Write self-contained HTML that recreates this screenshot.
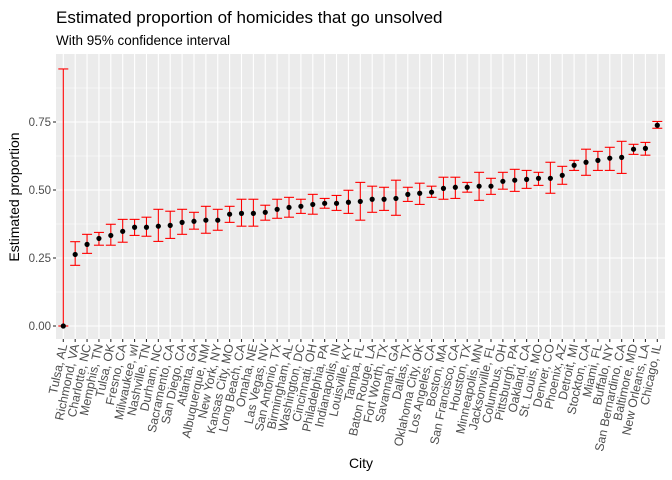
<!DOCTYPE html>
<html><head><meta charset="utf-8"><style>
body{margin:0;background:#fff;}
svg{display:block;font-family:"Liberation Sans",Arial,sans-serif;}
</style></head><body>
<svg id="c" width="672" height="480">
<text x="56" y="23" font-size="17" fill="#000">Estimated proportion of homicides that go unsolved</text>
<text x="56" y="45" font-size="13.5" fill="#000">With 95% confidence interval</text>
<text transform="translate(19,197) rotate(-90)" text-anchor="middle" font-size="14" fill="#000">Estimated proportion</text>
<text x="361" y="468" text-anchor="middle" font-size="14" fill="#000">City</text>
<rect x="56" y="54" width="609" height="285" fill="#ebebeb"/>
<g id="grid"></g><g id="marks"></g><g id="axes"></g>
</svg>
<script>
const cities=["Tulsa, AL","Richmond, VA","Charlotte, NC","Memphis, TN","Tulsa, OK","Fresno, CA","Milwaukee, wI","Nashville, TN","Durham, NC","Sacramento, CA","San Diego, CA","Atlanta, GA","Albuquerque, NM","New York, NY","Kansas City, MO","Long Beach, CA","Omaha, NE","Las Vegas, NV","San Antonio, TX","Birmingham, AL","Washington, DC","Cincinnati, OH","Philadelphia, PA","Indianapolis, IN","Louisville, KY","Tampa, FL","Baton Rouge, LA","Fort Worth, TX","Savannah, GA","Dallas, TX","Oklahoma City, OK","Los Angeles, CA","Boston, MA","San Francisco, CA","Houston, TX","Minneapolis, MN","Jacksonville, FL","Columbus, OH","Pittsburgh, PA","Oakland, CA","St. Louis, MO","Denver, CO","Phoenix, AZ","Detroit, MI","Stockton, CA","Miami, FL","Buffalo, NY","San Bernardino, CA","Baltimore, MD","New Orleans, LA","Chicago, IL"];
const estimate=[0,0.263,0.300,0.322,0.333,0.348,0.363,0.363,0.367,0.370,0.381,0.385,0.389,0.389,0.411,0.414,0.414,0.418,0.429,0.436,0.440,0.447,0.451,0.451,0.455,0.458,0.466,0.466,0.469,0.484,0.488,0.492,0.506,0.510,0.510,0.514,0.514,0.532,0.536,0.539,0.543,0.543,0.554,0.591,0.602,0.609,0.617,0.620,0.650,0.653,0.738];
const ciLow=[0,0.223,0.267,0.297,0.297,0.308,0.333,0.330,0.311,0.322,0.337,0.356,0.341,0.352,0.381,0.367,0.367,0.389,0.396,0.400,0.414,0.411,0.433,0.425,0.414,0.389,0.418,0.425,0.407,0.458,0.447,0.473,0.466,0.469,0.492,0.462,0.484,0.503,0.495,0.506,0.517,0.488,0.521,0.572,0.554,0.572,0.572,0.561,0.631,0.628,0.727];
const ciHigh=[0.945,0.310,0.337,0.344,0.374,0.392,0.392,0.400,0.429,0.422,0.429,0.418,0.440,0.429,0.440,0.466,0.466,0.444,0.466,0.473,0.466,0.484,0.469,0.480,0.499,0.528,0.514,0.510,0.536,0.510,0.525,0.514,0.547,0.547,0.528,0.565,0.543,0.565,0.576,0.572,0.565,0.602,0.587,0.609,0.650,0.642,0.657,0.679,0.668,0.675,0.752];
const yTicks=[0,0.25,0.5,0.75];
const yLabels=["0.00","0.25","0.50","0.75"];
const NS="http://www.w3.org/2000/svg";
const X0=63.3,X1=657.3,Y0=326,YS=272,PL=56,PR=665,PT=54,PB=339;
const xs=i=>X0+(X1-X0)*i/(cities.length-1);
const ys=v=>Y0-v*YS;
function mk(t,a,p){const e=document.createElementNS(NS,t);for(const k in a)e.setAttribute(k,a[k]);p.appendChild(e);return e;}
const grid=document.getElementById('grid'),marks=document.getElementById('marks'),axes=document.getElementById('axes');
[0.125,0.375,0.625,0.875].forEach(v=>{
 const l=mk('line',{x1:PL,x2:PR,y1:ys(v),y2:ys(v),stroke:'#fff','stroke-width':0.55},grid);
 
 });
yTicks.forEach((v,i)=>{
 const l=mk('line',{x1:PL,x2:PR,y1:ys(v),y2:ys(v),stroke:'#fff','stroke-width':1.1},grid);
 
 
 const t=mk('line',{x1:PL-3,x2:PL,y1:ys(v),y2:ys(v),stroke:'#333','stroke-width':1.1},axes);
 
 
 const tx=mk('text',{x:PL-5,y:ys(v)+4,'text-anchor':'end','font-size':11.5,fill:'#4d4d4d'},axes);
 tx.textContent=yLabels[i];
 
 
});
cities.forEach((c,i)=>{
 const x=xs(i);
 const g=mk('line',{x1:x,x2:x,y1:PT,y2:PB,stroke:'#fff','stroke-width':1.1},grid);
 
 
 const eb=mk('g',{stroke:'#ff0000','stroke-width':1.1},marks);
 
 
 mk('line',{x1:x,x2:x,y1:ys(ciLow[i]),y2:ys(ciHigh[i])},eb);
 mk('line',{x1:x-5,x2:x+5,y1:ys(ciLow[i]),y2:ys(ciLow[i])},eb);
 mk('line',{x1:x-5,x2:x+5,y1:ys(ciHigh[i]),y2:ys(ciHigh[i])},eb);
 const p=mk('circle',{cx:x,cy:ys(estimate[i]),r:2.6,fill:'#000'},marks);
 
 
 const t=mk('line',{x1:x,x2:x,y1:PB,y2:PB+3,stroke:'#333','stroke-width':1.1},axes);
 
 
 const tx=mk('text',{transform:`translate(${x+4},${PB+6}) rotate(-78)`,'text-anchor':'end','font-size':12.3,fill:'#4d4d4d'},axes);
 tx.textContent=c;
 
 
});
</script>
</body></html>
